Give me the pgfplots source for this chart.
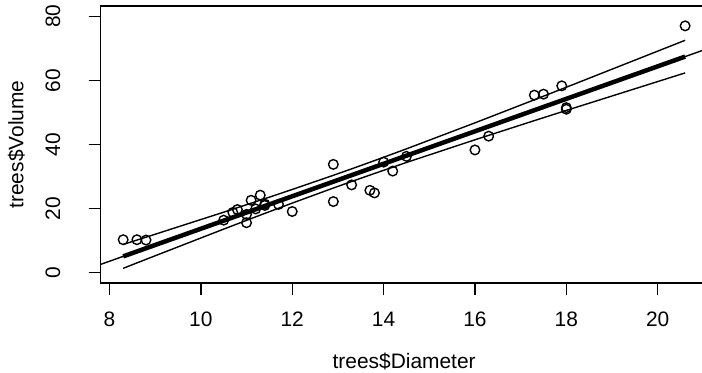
\documentclass[border=0pt]{standalone}
\usepackage{fontspec}
\setmainfont{Liberation Sans}
\usepackage{pgfplots}
\pgfplotsset{compat=1.18}
\begin{document}
\begin{tikzpicture}
\begin{axis}[
  at={(0,0)}, anchor=south west,
  scale only axis,
  width=606.9bp, height=277bp,
  xmin=7.808, xmax=21.092,
  ymin=-3.2, ymax=83.2,
  xtick={8,10,12,14,16,18,20},
  ytick={0,20,40,60,80},
  tick pos=left,
  tick align=outside,
  major tick length=12bp,
  axis line style={line width=1.4bp},
  every tick/.style={black, line width=1.4bp},
  /pgf/number format/assume math mode=true,
  tick label style={font=\fontsize{21}{25}\selectfont},
  label style={font=\fontsize{21}{25}\selectfont},
  xticklabel style={anchor=base},
  xticklabel shift=31bp,
  yticklabel style={rotate=90, anchor=base},
  yticklabel shift=28.5bp,
  xlabel={trees\$Diameter},
  ylabel={trees\$Volume},
  xlabel style={at={(axis description cs:0.5,0)}, anchor=base, yshift=-85bp},
  ylabel style={at={(axis description cs:-0.1275,0.5)}, anchor=base},
  clip=true,
]
% abline over the whole plot region
\addplot[black, line width=1.4bp] coordinates {(7.808,2.612) (21.092,69.91)};
% fitted values (thick)
\addplot[black, line width=4.5bp] coordinates {(8.3,5.104) (20.6,67.414)};
% upper band
\addplot[black, line width=1.4bp] coordinates {
(8.3,8.83) (8.6,10.18) (8.8,11.09) (10.5,18.89) (11.0,21.22) (11.4,23.10)
(12.0,25.97) (12.9,30.39) (13.3,32.40) (13.8,34.97) (14.5,38.64) (16.0,46.75)
(17.3,53.95) (18.0,57.86) (20.6,72.50)};
% lower band
\addplot[black, line width=1.4bp] coordinates {
(8.3,1.38) (8.6,3.06) (8.8,4.18) (10.5,13.61) (11.0,16.34) (11.4,18.51)
(12.0,21.72) (12.9,26.42) (13.3,28.46) (13.8,30.96) (14.5,34.39) (16.0,41.47)
(17.3,47.45) (18.0,50.63) (20.6,62.33)};
% data points
\addplot[only marks, mark=o, mark size=4.8bp, mark options={line width=1.4bp, black}] coordinates {
(8.3,10.3) (8.6,10.3) (8.8,10.2) (10.5,16.4) (10.7,18.8) (10.8,19.7)
(11.0,15.6) (11.0,18.2) (11.1,22.6) (11.2,19.9) (11.3,24.2) (11.4,21.0)
(11.4,21.4) (11.7,21.3) (12.0,19.1) (12.9,22.2) (12.9,33.8) (13.3,27.4)
(13.7,25.7) (13.8,24.9) (14.0,34.5) (14.2,31.7) (14.5,36.3) (16.0,38.3)
(16.3,42.6) (17.3,55.4) (17.5,55.7) (17.9,58.3) (18.0,51.5) (18.0,51.0)
(20.6,77.0)};
\end{axis}
\pgfresetboundingbox
\useasboundingbox (-100.7bp,-90bp) rectangle (601.3bp,283bp);
\end{tikzpicture}
\end{document}
